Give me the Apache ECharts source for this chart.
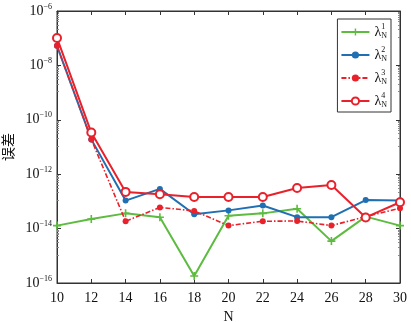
<!DOCTYPE html>
<html><head><meta charset="utf-8">
<script src="https://cdn.jsdelivr.net/npm/echarts@6/dist/echarts.min.js"></script>
<style>html,body{margin:0;padding:0;background:#fff}#c{width:411px;height:322px}</style>
</head><body><div id="c"></div>
<script>
const categories = [10,12,14,16,18,20,22,24,26,28,30];
// log10 of errors
const lam1Log = [-13.89,-13.65,-13.44,-13.58,-15.74,-13.53,-13.44,-13.27,-14.46,-13.56,-13.89];
const lam2Log = [-7.28,-10.72,-12.97,-12.54,-13.47,-13.33,-13.15,-13.58,-13.58,-12.95,-12.97];
const lam3Log = [-7.28,-10.72,-13.73,-13.22,-13.35,-13.89,-13.73,-13.72,-13.89,-13.56,-13.25];
const lam4Log = [-6.99,-10.47,-12.65,-12.74,-12.84,-12.84,-12.84,-12.51,-12.40,-13.59,-13.03];
const seriesNames = ['λ1','λ2','λ3','λ4'];
const yTickExponents = [-16,-14,-12,-10,-8,-6];

const toPairs = arr => categories.map((c,i)=>[c, Math.pow(10, arr[i])]);
const plusPath = 'path://M4,0 L6,0 L6,4 L10,4 L10,6 L6,6 L6,10 L4,10 L4,6 L0,6 L0,4 L4,4 Z';
const serif = '"Liberation Serif","DejaVu Serif",serif';
const GREEN = '#5dbb3f', BLUE = '#1f6fb2', RED = '#e8212b';

const chart = echarts.init(document.getElementById('c'), null, {renderer:'canvas'});
const labRich = {
  l:{fontFamily:serif,fontSize:14,color:'#111'},
  sup:{fontFamily:serif,fontSize:8,color:'#111',width:0,padding:[0,0,10,0]},
  sub:{fontFamily:serif,fontSize:8,color:'#111',padding:[8,0,0,0]}
};
chart.setOption({
  animation:false,
  grid:{left:57,right:11,top:11,bottom:39,outerBoundsMode:'none',containLabel:false,show:true,borderColor:'#333',borderWidth:1},
  legend:{
    right:20, top:19, orient:'vertical', itemWidth:28, itemHeight:9, itemGap:6,
    backgroundColor:'#fff', borderColor:'#333', borderWidth:1, padding:[4,4,3,3],
    data:seriesNames,
    formatter: n => '{l|λ}{sup|'+n.slice(1)+'}{sub|N}',
    textStyle:{rich:labRich}
  },
  xAxis:[{
    type:'value', min:10, max:30, interval:2,
    name:'N', nameLocation:'middle', nameGap:26,
    nameTextStyle:{fontFamily:serif,fontSize:14,color:'#111'},
    axisLine:{lineStyle:{color:'#333'}},
    axisTick:{inside:true,length:4,lineStyle:{color:'#333'}},
    axisLabel:{fontFamily:serif,fontSize:14,color:'#111',margin:8},
    splitLine:{show:false}
  },{
    type:'value', min:10, max:30, interval:2, position:'top',
    axisLine:{lineStyle:{color:'#333'}},
    axisTick:{inside:true,length:4,lineStyle:{color:'#333'}},
    axisLabel:{show:false}, splitLine:{show:false}
  }],
  yAxis:[{
    type:'log', logBase:10, min:1e-16, max:1e-6, interval:2,
    name:'误差', nameLocation:'middle', nameGap:38, nameRotate:90,
    nameTextStyle:{fontFamily:'"Noto Sans CJK SC",sans-serif',fontSize:14,color:'#111'},
    axisLine:{lineStyle:{color:'#333'}},
    axisTick:{inside:true,length:4,lineStyle:{color:'#333'}},
    minorTick:{show:true,splitNumber:10,length:2,lineStyle:{color:'#888'}},
    axisLabel:{
      margin:5,
      formatter: v => { const e = Math.round(Math.log10(v)); return '{b|10}{s|−'+Math.abs(e)+'}'; },
      rich:{b:{fontFamily:serif,fontSize:14,color:'#111'},s:{fontFamily:serif,fontSize:8,color:'#111',padding:[0,0,9,0]}}
    },
    splitLine:{show:false}
  },{
    type:'log', logBase:10, min:1e-16, max:1e-6, interval:2, position:'right',
    axisLine:{lineStyle:{color:'#333'}},
    axisTick:{inside:true,length:4,lineStyle:{color:'#333'}},
    minorTick:{show:true,splitNumber:10,length:2,lineStyle:{color:'#888'}},
    axisLabel:{show:false}, splitLine:{show:false}
  }],
  series:[
    {name:seriesNames[0],type:'line',data:toPairs(lam1Log),symbol:plusPath,symbolSize:8,
     lineStyle:{color:GREEN,width:2},itemStyle:{color:GREEN},z:2},
    {name:seriesNames[1],type:'line',data:toPairs(lam2Log),symbol:'circle',symbolSize:6,
     lineStyle:{color:BLUE,width:2},itemStyle:{color:BLUE},z:3},
    {name:seriesNames[2],type:'line',data:toPairs(lam3Log),symbol:'circle',symbolSize:6,
     lineStyle:{color:RED,width:1.6,type:[5,2,1.5,2]},itemStyle:{color:RED},z:4},
    {name:seriesNames[3],type:'line',data:toPairs(lam4Log),symbol:'emptyCircle',symbolSize:8,
     lineStyle:{color:RED,width:2},itemStyle:{color:RED,borderWidth:1.5,borderColor:RED},z:5}
  ]
});
</script></body></html>
